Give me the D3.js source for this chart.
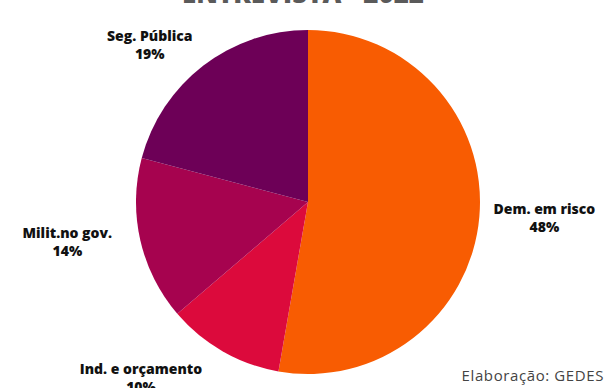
<!DOCTYPE html>
<html>
<head>
<meta charset="utf-8">
<script src="https://cdn.jsdelivr.net/npm/d3@7"></script>
<style>
  html, body { margin: 0; padding: 0; background: #fff; }
  svg { display: block; }
</style>
</head>
<body>
<svg id="chart" width="608" height="388"></svg>
<script>
// Themes raised in the interviews (share of mentions, %)
const categories = ["Dem. em risco", "Ind. e orçamento", "Milit.no gov.", "Seg. Pública"];
const values = [48, 10, 14, 19];
const colors = ["#F85C02", "#DC0A3C", "#A6034F", "#6D0057"];

const W = 608, H = 388;
const cx = 308, cy = 202, R = 172;

const svg = d3.select("#chart");

// Title (partly above the visible area)
svg.append("text")
  .attr("x", 303).attr("y", 3)
  .attr("text-anchor", "middle")
  .attr("font-family", "'Open Sans', sans-serif")
  .attr("font-weight", 800)
  .attr("font-size", 26)
  .attr("fill", "#5a5a5a")
  .text("ENTREVISTA - 2022");

const pie = d3.pie().sort(null).value(d => d.value);
const data = categories.map((c, i) => ({ cat: c, value: values[i], color: colors[i] }));
const arcs = pie(data);

const arc = d3.arc().innerRadius(0).outerRadius(R);

const g = svg.append("g").attr("transform", `translate(${cx},${cy})`);

g.selectAll("path")
  .data(arcs)
  .join("path")
  .attr("d", arc)
  .attr("fill", d => d.data.color);

// Label placement: radius and angular nudge for each slice
const labelPlace = {
  "Dem. em risco": { r: 237, da: -0.017 },
  "Ind. e orçamento": { r: 243, da: 0.24 },
  "Milit.no gov.": { r: 244, da: 0.059 },
  "Seg. Pública": { r: 223, da: -0.133 }
};

const labels = svg.append("g")
  .attr("font-family", "'Open Sans', sans-serif")
  .attr("font-weight", 800)
  .attr("font-size", 14)
  .attr("fill", "#111")
  .attr("text-anchor", "middle");

arcs.forEach(a => {
  const p = labelPlace[a.data.cat];
  const mid = (a.startAngle + a.endAngle) / 2 + p.da;
  const lx = cx + Math.sin(mid) * p.r;
  const ly = cy - Math.cos(mid) * p.r;
  const t = labels.append("text").attr("x", lx).attr("y", ly - 4);
  t.append("tspan").attr("x", lx).attr("dy", 0).text(a.data.cat);
  t.append("tspan").attr("x", lx).attr("dy", 18).text(d3.format(".0f")(a.data.value) + "%");
});

// Source note
svg.append("text")
  .attr("x", 604).attr("y", 381)
  .attr("text-anchor", "end")
  .attr("font-family", "'Open Sans', sans-serif")
  .attr("font-size", 15)
  .attr("letter-spacing", 0.6)
  .attr("fill", "#444")
  .text("Elaboração: GEDES");
</script>
</body>
</html>
